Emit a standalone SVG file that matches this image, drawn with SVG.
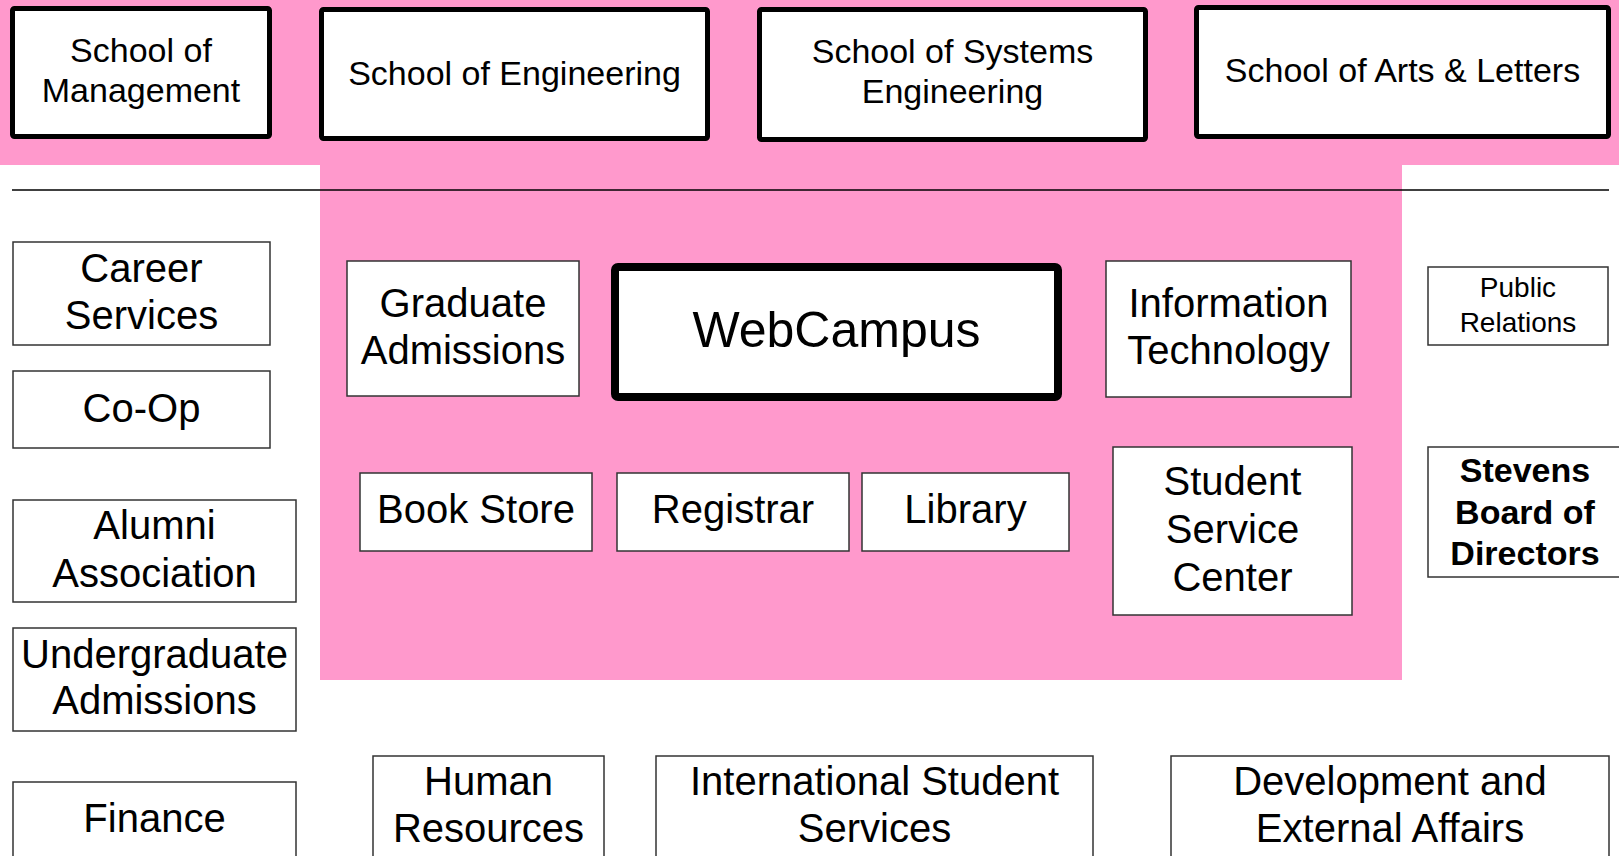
<svg xmlns="http://www.w3.org/2000/svg" width="1619" height="856" viewBox="0 0 1619 856">
  <style>
    .t { font-family: "Liberation Sans", Arial, sans-serif; fill: #000; text-anchor: middle; }
    .s34 { font-size: 34px; }
    .s40 { font-size: 40px; }
    .s28 { font-size: 28px; }
    .s50 { font-size: 50px; }
    .b34 { font-size: 34px; font-weight: bold; }
    .thick { fill: #fff; stroke: #000; stroke-width: 5; }
    .thin { fill: #fff; stroke: #333; stroke-width: 1.5; }
    .hub { fill: #fff; stroke: #000; stroke-width: 8; }
  </style>

  <!-- background -->
  <rect x="0" y="0" width="1619" height="856" fill="#fff"/>
  <path d="M0 0 H1619 V165 H1402 V680 H320 V165 H0 Z" fill="#FF99CC"/>

  <!-- separator line -->
  <g id="connectors">
    <line x1="12" y1="190" x2="1609" y2="190" stroke="#000" stroke-width="1.5"/>
  </g>

  <!-- schools -->
  <g id="school-management">
    <rect class="thick" x="12.5" y="8.5" width="257" height="128" rx="2"/>
    <text class="t s34" x="141" y="62">School of</text>
    <text class="t s34" x="141" y="102">Management</text>
  </g>
  <g id="school-engineering">
    <rect class="thick" x="321.5" y="9.5" width="386" height="129" rx="2"/>
    <text class="t s34" x="514.5" y="85">School of Engineering</text>
  </g>
  <g id="school-systems">
    <rect class="thick" x="759.5" y="9.5" width="386" height="130" rx="2"/>
    <text class="t s34" x="952.5" y="63">School of Systems</text>
    <text class="t s34" x="952.5" y="103">Engineering</text>
  </g>
  <g id="school-arts">
    <rect class="thick" x="1196.5" y="7.5" width="412" height="129" rx="2"/>
    <text class="t s34" x="1402.5" y="82">School of Arts &amp; Letters</text>
  </g>

  <!-- left column -->
  <g id="career-services">
    <rect class="thin" x="13" y="242" width="257" height="103"/>
    <text class="t s40" x="141.5" y="282">Career</text>
    <text class="t s40" x="141.5" y="329">Services</text>
  </g>
  <g id="co-op">
    <rect class="thin" x="13" y="371" width="257" height="77"/>
    <text class="t s40" x="141.5" y="422">Co-Op</text>
  </g>
  <g id="alumni">
    <rect class="thin" x="13" y="500" width="283" height="102"/>
    <text class="t s40" x="154.5" y="539">Alumni</text>
    <text class="t s40" x="154.5" y="587">Association</text>
  </g>
  <g id="undergrad-admissions">
    <rect class="thin" x="13" y="628" width="283" height="103"/>
    <text class="t s40" x="154.5" y="668">Undergraduate</text>
    <text class="t s40" x="154.5" y="714">Admissions</text>
  </g>
  <g id="finance">
    <rect class="thin" x="13" y="782" width="283" height="100"/>
    <text class="t s40" x="154.5" y="832">Finance</text>
  </g>

  <!-- bottom row -->
  <g id="human-resources">
    <rect class="thin" x="373" y="756" width="231" height="120"/>
    <text class="t s40" x="488.5" y="795">Human</text>
    <text class="t s40" x="488.5" y="842">Resources</text>
  </g>
  <g id="international-students">
    <rect class="thin" x="656" y="756" width="437" height="120"/>
    <text class="t s40" x="874.5" y="795">International Student</text>
    <text class="t s40" x="874.5" y="842">Services</text>
  </g>
  <g id="development">
    <rect class="thin" x="1171" y="756" width="438" height="120"/>
    <text class="t s40" x="1390" y="795">Development and</text>
    <text class="t s40" x="1390" y="842">External Affairs</text>
  </g>

  <!-- central area -->
  <g id="graduate-admissions">
    <rect class="thin" x="347" y="261" width="232" height="135"/>
    <text class="t s40" x="463" y="317">Graduate</text>
    <text class="t s40" x="463" y="364">Admissions</text>
  </g>
  <g id="webcampus">
    <rect class="hub" x="615" y="267" width="443" height="130" rx="3"/>
    <text class="t s50" x="836.5" y="347">WebCampus</text>
  </g>
  <g id="information-technology">
    <rect class="thin" x="1106" y="261" width="245" height="136"/>
    <text class="t s40" x="1228.5" y="317">Information</text>
    <text class="t s40" x="1228.5" y="364">Technology</text>
  </g>
  <g id="book-store">
    <rect class="thin" x="360" y="473" width="232" height="78"/>
    <text class="t s40" x="476" y="523">Book Store</text>
  </g>
  <g id="registrar">
    <rect class="thin" x="617" y="473" width="232" height="78"/>
    <text class="t s40" x="733" y="523">Registrar</text>
  </g>
  <g id="library">
    <rect class="thin" x="862" y="473" width="207" height="78"/>
    <text class="t s40" x="965.5" y="523">Library</text>
  </g>
  <g id="student-service-center">
    <rect class="thin" x="1113" y="447" width="239" height="168"/>
    <text class="t s40" x="1232.5" y="495">Student</text>
    <text class="t s40" x="1232.5" y="543">Service</text>
    <text class="t s40" x="1232.5" y="591">Center</text>
  </g>

  <!-- right column -->
  <g id="public-relations">
    <rect class="thin" x="1428" y="267" width="180" height="78"/>
    <text class="t s28" x="1518" y="297">Public</text>
    <text class="t s28" x="1518" y="332">Relations</text>
  </g>
  <g id="board-of-directors">
    <rect class="thin" x="1428" y="447" width="200" height="130"/>
    <text class="t b34" x="1525" y="482">Stevens</text>
    <text class="t b34" x="1525" y="524">Board of</text>
    <text class="t b34" x="1525" y="565">Directors</text>
  </g>
</svg>
